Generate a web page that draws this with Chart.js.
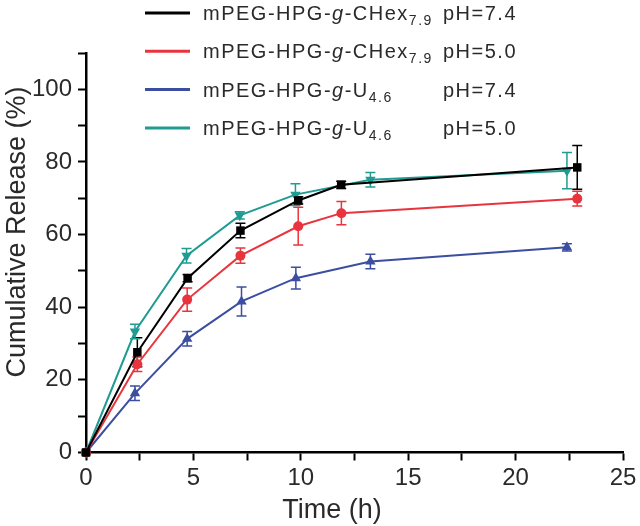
<!DOCTYPE html>
<html>
<head>
<meta charset="utf-8">
<script src="https://cdn.jsdelivr.net/npm/chart.js@4"></script>
<style>
  body { margin: 0; background: #fff; }
  canvas { display: block; }
</style>
</head>
<body>
<canvas id="myChart" width="640" height="526"></canvas>
<script>
// series labels
const polymers = ['CHex', 'CHex', 'U', 'U']
const polymerSubs = ['7.9', '7.9', '4.6', '4.6']
const phValues = ['7.4', '5.0', '7.4', '5.0']
const colors = ['#000000', '#e8353d', '#3b4ea0', '#1f9b92']
const pointStyles = ['rect', 'circle', 'triangle', 'triangle']
const pointRotations = [0, 0, 0, 180]
const pointSizes = [6, 5, 6, 6]

// time (h), cumulative release (%), error (+/-)
const timeCHex74 = [0, 2.39, 4.73, 7.19, 9.88, 11.88, 22.87]
const relCHex74 = [0, 27.6, 48.0, 61.1, 69.4, 73.7, 78.5]
const errCHex74 = [0, 4, 1, 2, 1, 1, 6]

const timeCHex50 = [0, 2.39, 4.71, 7.19, 9.88, 11.89, 22.87]
const relCHex50 = [0, 24.3, 42.1, 54.2, 62.3, 65.9, 69.9]
const errCHex50 = [0, 2, 3.2, 2.1, 5.2, 3.2, 2]

const timeU74 = [0, 2.28, 4.71, 7.24, 9.77, 13.24, 22.39]
const relU74 = [0, 16.3, 31.3, 41.6, 48.0, 52.6, 56.5]
const errU74 = [0, 2, 2, 4, 3, 2, 1]

const timeU50 = [0, 2.28, 4.68, 7.16, 9.75, 13.24, 22.39]
const relU50 = [0, 33.3, 54.2, 65.3, 71.0, 75.1, 77.6]
const errU50 = [0, 2, 2, 1, 3, 2, 5]

const xTitle = 'Time (h)'
const yTitle = 'Cumulative Release (%)'

const times = [timeCHex74, timeCHex50, timeU74, timeU50]
const releases = [relCHex74, relCHex50, relU74, relU50]
const errors = [errCHex74, errCHex50, errU74, errU50]

const fontFamily = '"Liberation Sans", Arial, sans-serif'
const textColor = '#2a2a2a'

let datasets = []
for (let i = 0; i < times.length; i++) {
  datasets.push({
    label: 'mPEG-HPG-g-' + polymers[i] + polymerSubs[i] + ' pH=' + phValues[i],
    data: times[i].map((t, j) => ({x: t, y: releases[i][j]})),
    errors: errors[i],
    borderColor: colors[i],
    backgroundColor: colors[i],
    borderWidth: 2,
    pointStyle: pointStyles[i],
    rotation: pointRotations[i],
    pointRadius: pointSizes[i],
    pointBorderWidth: 0,
    pointHoverRadius: pointSizes[i],
    tension: 0,
    clip: false
  })
}

// error bars drawn through the chart's own scales
const errorBars = {
  id: 'errorBars',
  beforeDatasetsDraw(chart) {
    const ctx = chart.ctx
    const xs = chart.scales.x, ys = chart.scales.y
    chart.data.datasets.forEach(ds => {
      ctx.save()
      ctx.strokeStyle = ds.borderColor
      ctx.lineWidth = 1.5
      ds.data.forEach((p, j) => {
        const e = ds.errors[j]
        if (!e) return
        const px = xs.getPixelForValue(p.x)
        const top = ys.getPixelForValue(p.y + e)
        const bot = ys.getPixelForValue(p.y - e)
        ctx.beginPath()
        ctx.moveTo(px, top); ctx.lineTo(px, bot)
        ctx.moveTo(px - 5, top); ctx.lineTo(px + 5, top)
        ctx.moveTo(px - 5, bot); ctx.lineTo(px + 5, bot)
        ctx.stroke()
      })
      ctx.restore()
    })
  }
}

// legend with italic g and subscripts, plus axis titles
const decorations = {
  id: 'decorations',
  afterDraw(chart) {
    const ctx = chart.ctx
    const area = chart.chartArea
    ctx.save()
    ctx.fillStyle = textColor

    // axis titles
    ctx.font = '27px ' + fontFamily
    ctx.textBaseline = 'alphabetic'
    ctx.textAlign = 'center'
    ctx.fillText(xTitle, area.left + (area.right - area.left) * 0.458, 518)
    ctx.save()
    ctx.translate(25, area.top + (area.bottom - area.top) * 0.448)
    ctx.rotate(-Math.PI / 2)
    ctx.fillText(yTitle, 0, 0)
    ctx.restore()

    // legend
    ctx.textAlign = 'left'
    ctx.letterSpacing = '1.5px'
    for (let i = 0; i < polymers.length; i++) {
      const y = 13 + i * 38.3
      ctx.strokeStyle = colors[i]
      ctx.lineWidth = 3
      ctx.beginPath()
      ctx.moveTo(145, y); ctx.lineTo(190, y)
      ctx.stroke()

      const base = y + 7
      let x = 203
      ctx.font = '20px ' + fontFamily
      ctx.fillText('mPEG-HPG-', x, base)
      x += ctx.measureText('mPEG-HPG-').width
      ctx.font = 'italic 20px ' + fontFamily
      ctx.fillText('g', x, base)
      x += ctx.measureText('g').width
      ctx.font = '20px ' + fontFamily
      ctx.fillText('-' + polymers[i], x, base)
      x += ctx.measureText('-' + polymers[i]).width
      ctx.font = '14px ' + fontFamily
      ctx.fillText(polymerSubs[i], x, base + 5)
      ctx.font = '20px ' + fontFamily
      ctx.fillText('pH=' + phValues[i], 443, base)
    }
    ctx.restore()
  }
}

new Chart(document.getElementById('myChart'), {
  type: 'line',
  data: {datasets: datasets},
  plugins: [errorBars, decorations],
  options: {
    responsive: false,
    animation: false,
    layout: {padding: {left: 0, top: 53, right: 17, bottom: 0}},
    plugins: {
      legend: {display: false},
      tooltip: {enabled: false}
    },
    scales: {
      x: {
        type: 'linear',
        min: 0,
        max: 25,
        afterFit: s => { s.height = 73.5 },
        border: {display: true, color: '#000', width: 2.5},
        grid: {display: true, drawOnChartArea: false, drawTicks: true, tickLength: 8, tickWidth: 2, tickColor: '#000'},
        ticks: {
          stepSize: 2.5,
          padding: 3,
          maxRotation: 0,
          autoSkip: false,
          color: textColor,
          font: {family: fontFamily, size: 24},
          callback: v => (v % 5 === 0 ? v : '')
        }
      },
      y: {
        min: 0,
        max: 110,
        afterFit: s => { s.width = 86 },
        border: {display: true, color: '#000', width: 2.5},
        grid: {display: true, drawOnChartArea: false, drawTicks: true, tickLength: 8, tickWidth: 2, tickColor: '#000'},
        ticks: {
          stepSize: 10,
          padding: 6,
          autoSkip: false,
          color: textColor,
          font: {family: fontFamily, size: 24},
          callback: v => (v % 20 === 0 && v <= 100 ? v : '')
        }
      }
    }
  }
})
</script>
</body>
</html>
